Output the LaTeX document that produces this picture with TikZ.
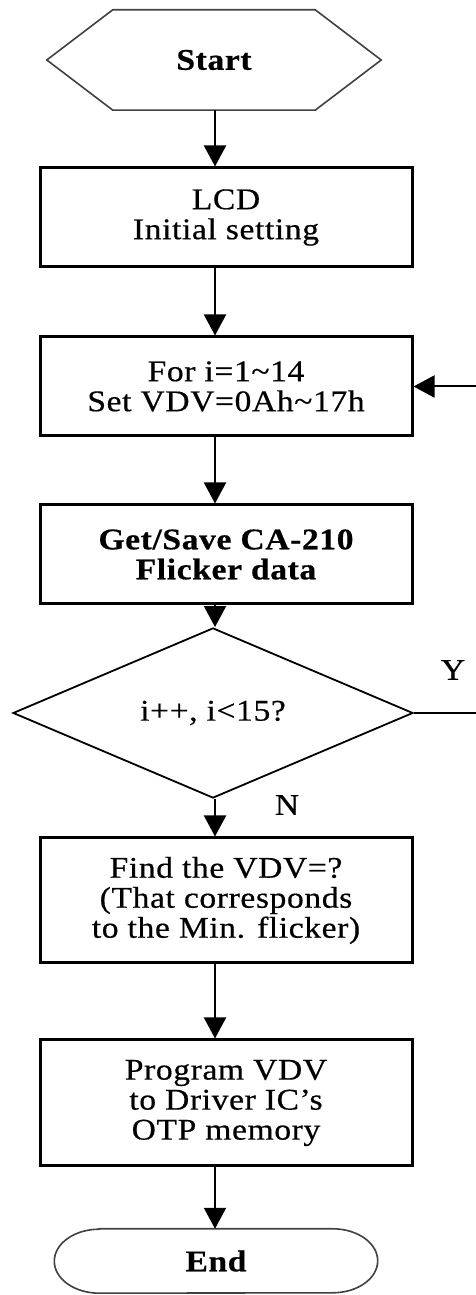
\documentclass[tikz,border=0pt]{standalone}
\usepackage{fontspec}
\setmainfont{Liberation Serif}[FakeStretch=1.12,LetterSpace=2,FakeBold=0.5]
\usetikzlibrary{shapes.geometric}
\usetikzlibrary{positioning}
\usetikzlibrary{arrows.meta}

\begin{document}
\begin{tikzpicture}[x=1pt, y=1pt,
        font=\fontsize{30}{30}\selectfont,
        procbox/.style={draw, rectangle, line width=3pt, align=center, minimum width=372pt, minimum height=99pt, inner sep=0pt},
        flowarrow/.style={line width=2pt, -{Triangle[length=21pt,width=22pt]}},
        outline/.style={line width=1.6pt, draw=black!75}]
            \useasboundingbox (0,0) rectangle (475,1295);
            \coordinate (spine) at (215,0);
            % terminals and steps
            \node[minimum width=334pt, minimum height=100pt, inner sep=0pt, font=\fontsize{30}{30}\selectfont\bfseries] (start) at (214,1235) {Start};
            \draw[outline] (start.west) -- ([xshift=66pt]start.north west) -- ([xshift=-66pt]start.north east) -- (start.east) -- ([xshift=-66pt]start.south east) -- ([xshift=66pt]start.south west) -- cycle;
            \node[procbox] (lcd) at (226,1077.5) {LCD\\Initial setting};
            \node[procbox] (loop) at (226,908.5) {For i=1\char`~14\\Set VDV=0Ah\char`~17h};
            \node[procbox, font=\fontsize{30}{30}\selectfont\bfseries] (get) at (226,740.5) {Get/Save CA-210\\Flicker data};
            \node[draw, diamond, line width=1.8pt, minimum width=400pt, minimum height=132pt, inner sep=0pt] (cond) at (213,582) {i++, i<15?};
            \node[procbox, minimum height=125pt] (find) at (226,394.5) {Find the VDV=?\\(That corresponds\\to the Min. flicker)};
            \node[procbox, minimum height=126pt] (prog) at (226,192) {Program VDV\\to Driver IC's\\OTP memory};
            \node[minimum width=233pt, minimum height=64pt, inner sep=0pt, font=\fontsize{30}{30}\selectfont\bfseries] (fin) at (216,34) {End};
            \draw[outline] (fin.north west) -- (fin.north east) arc[start angle=90, end angle=-90, x radius=45pt, y radius=32pt] -- (fin.south west) arc[start angle=270, end angle=90, x radius=45pt, y radius=32pt] -- cycle;
            % labels
            \node (yes) at (453,625) {Y};
            \node (no) at (287,490) {N};
            % connectors
            \draw[flowarrow] (start.south -| spine) -- (lcd.north -| spine);
            \draw[flowarrow] (lcd.south -| spine) -- (loop.north -| spine);
            \draw[flowarrow] (loop.south -| spine) -- (get.north -| spine);
            \draw[flowarrow] (get.south -| spine) -- (cond.north -| spine);
            \draw[flowarrow] (cond.south -| spine) -- (find.north -| spine);
            \draw[flowarrow] (find.south -| spine) -- (prog.north -| spine);
            \draw[flowarrow] (prog.south -| spine) -- (fin.north -| spine);
            \coordinate (back) at (477,582);
            \draw[flowarrow] (cond.east) -- (back) |- (loop.east);
        \end{tikzpicture}
\end{document}
